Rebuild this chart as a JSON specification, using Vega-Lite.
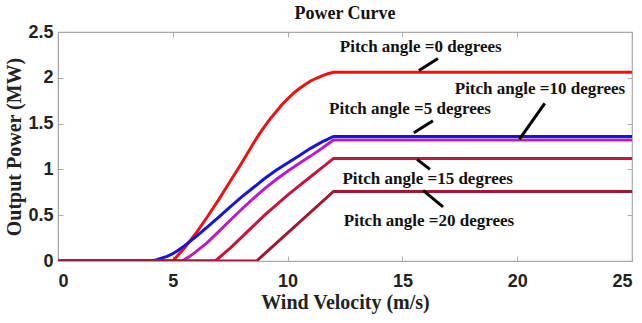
{
  "$schema": "https://vega.github.io/schema/vega-lite/v6.json",
  "width": 574,
  "height": 229,
  "autosize": {"type": "none"},
  "padding": {"left": 58, "top": 32, "right": 10, "bottom": 62},
  "background": "white",
  "title": {"text": "Power Curve", "font": "Liberation Serif", "fontSize": 18, "fontWeight": "bold", "color": "#111", "offset": 0, "anchor": "middle"},
  "config": {
    "view": {"stroke": "#a8a8a8", "strokeWidth": 1.2},
    "axis": {
      "grid": false,
      "domainColor": "#a8a8a8",
      "tickColor": "#a8a8a8",
      "labelFont": "Liberation Sans",
      "labelFontSize": 18,
      "labelFontWeight": "bold",
      "labelColor": "#222",
      "titleFont": "Liberation Serif",
      "titleFontSize": 20,
      "titleFontWeight": "bold",
      "titleColor": "#222"
    }
  },
  "resolve": {"axis": {"x": "independent", "y": "independent"}},
  "datasets": {
    "curves": [
      {"s": "0", "x": 0, "y": 0}, {"s": "0", "x": 5, "y": 0}, {"s": "0", "x": 5.5, "y": 0.14}, {"s": "0", "x": 6, "y": 0.3}, {"s": "0", "x": 6.5, "y": 0.48}, {"s": "0", "x": 7, "y": 0.67}, {"s": "0", "x": 7.5, "y": 0.87}, {"s": "0", "x": 8, "y": 1.07}, {"s": "0", "x": 8.5, "y": 1.28}, {"s": "0", "x": 8.75, "y": 1.38}, {"s": "0", "x": 9, "y": 1.47}, {"s": "0", "x": 9.25, "y": 1.555}, {"s": "0", "x": 9.5, "y": 1.63}, {"s": "0", "x": 9.75, "y": 1.705}, {"s": "0", "x": 10, "y": 1.77}, {"s": "0", "x": 10.25, "y": 1.83}, {"s": "0", "x": 10.5, "y": 1.88}, {"s": "0", "x": 10.75, "y": 1.925}, {"s": "0", "x": 11, "y": 1.965}, {"s": "0", "x": 11.25, "y": 1.995}, {"s": "0", "x": 11.5, "y": 2.02}, {"s": "0", "x": 11.75, "y": 2.045}, {"s": "0", "x": 12, "y": 2.06}, {"s": "0", "x": 25, "y": 2.06},
      {"s": "5", "x": 0, "y": 0}, {"s": "5", "x": 4, "y": 0}, {"s": "5", "x": 4.25, "y": 0.01}, {"s": "5", "x": 4.5, "y": 0.03}, {"s": "5", "x": 4.75, "y": 0.05}, {"s": "5", "x": 5, "y": 0.08}, {"s": "5", "x": 5.25, "y": 0.12}, {"s": "5", "x": 5.5, "y": 0.165}, {"s": "5", "x": 5.75, "y": 0.215}, {"s": "5", "x": 6, "y": 0.265}, {"s": "5", "x": 6.5, "y": 0.37}, {"s": "5", "x": 7, "y": 0.48}, {"s": "5", "x": 7.5, "y": 0.59}, {"s": "5", "x": 8, "y": 0.7}, {"s": "5", "x": 8.5, "y": 0.8}, {"s": "5", "x": 9, "y": 0.9}, {"s": "5", "x": 9.5, "y": 0.99}, {"s": "5", "x": 10, "y": 1.07}, {"s": "5", "x": 10.5, "y": 1.15}, {"s": "5", "x": 11, "y": 1.23}, {"s": "5", "x": 11.5, "y": 1.3}, {"s": "5", "x": 12, "y": 1.36}, {"s": "5", "x": 25, "y": 1.36},
      {"s": "10", "x": 0, "y": 0}, {"s": "10", "x": 5.4, "y": 0}, {"s": "10", "x": 5.7, "y": 0.045}, {"s": "10", "x": 6, "y": 0.1}, {"s": "10", "x": 6.5, "y": 0.2}, {"s": "10", "x": 7, "y": 0.32}, {"s": "10", "x": 7.5, "y": 0.445}, {"s": "10", "x": 8, "y": 0.565}, {"s": "10", "x": 8.5, "y": 0.68}, {"s": "10", "x": 9, "y": 0.79}, {"s": "10", "x": 9.5, "y": 0.89}, {"s": "10", "x": 10, "y": 0.98}, {"s": "10", "x": 10.5, "y": 1.065}, {"s": "10", "x": 11, "y": 1.145}, {"s": "10", "x": 11.5, "y": 1.23}, {"s": "10", "x": 12, "y": 1.32}, {"s": "10", "x": 25, "y": 1.32},
      {"s": "15", "x": 0, "y": 0}, {"s": "15", "x": 6.85, "y": 0}, {"s": "15", "x": 7.5, "y": 0.14}, {"s": "15", "x": 8, "y": 0.26}, {"s": "15", "x": 8.5, "y": 0.38}, {"s": "15", "x": 9, "y": 0.5}, {"s": "15", "x": 9.5, "y": 0.61}, {"s": "15", "x": 10, "y": 0.72}, {"s": "15", "x": 10.5, "y": 0.82}, {"s": "15", "x": 11, "y": 0.92}, {"s": "15", "x": 11.5, "y": 1.02}, {"s": "15", "x": 12, "y": 1.12}, {"s": "15", "x": 25, "y": 1.12},
      {"s": "20", "x": 0, "y": 0}, {"s": "20", "x": 8.65, "y": 0}, {"s": "20", "x": 12, "y": 0.76}, {"s": "20", "x": 25, "y": 0.76}
    ],
    "arrows": [
      {"x": 16.55, "y": 2.21, "x2": 15.72, "y2": 2.08},
      {"x": 21.2, "y": 1.72, "x2": 20.1, "y2": 1.33},
      {"x": 16.33, "y": 1.53, "x2": 15.5, "y2": 1.4},
      {"x": 15.64, "y": 1.11, "x2": 16.2, "y2": 1.0},
      {"x": 15.9, "y": 0.77, "x2": 16.77, "y2": 0.59}
    ],
    "labels": [
      {"x": 15.8, "y": 2.34, "text": "Pitch angle =0 degrees"},
      {"x": 20.99, "y": 1.88, "text": "Pitch angle =10 degrees"},
      {"x": 15.33, "y": 1.66, "text": "Pitch angle =5 degrees"},
      {"x": 16.1, "y": 0.895, "text": "Pitch angle =15 degrees"},
      {"x": 16.16, "y": 0.44, "text": "Pitch angle =20 degrees"}
    ]
  },
  "layer": [
    {
      "data": {"name": "curves"},
      "mark": {"type": "line", "strokeWidth": 3, "clip": true},
      "encoding": {
        "x": {"field": "x", "type": "quantitative", "title": "Wind Velocity (m/s)", "scale": {"domain": [0, 25], "nice": false}, "axis": {"values": [0, 5, 10, 15, 20, 25], "ticks": false, "labelPadding": 11, "titlePadding": 2}},
        "y": {"field": "y", "type": "quantitative", "title": "Output Power (MW)", "scale": {"domain": [0, 2.5], "nice": false}, "axis": {"values": [0, 0.5, 1, 1.5, 2, 2.5], "format": ".1~f", "ticks": false, "labelPadding": 5, "titlePadding": 3}},
        "color": {"field": "s", "type": "nominal", "scale": {"domain": ["0", "5", "10", "15", "20"], "range": ["#ee1111", "#1515dd", "#b81cc8", "#c8143c", "#9e1a32"]}, "legend": null}
      }
    },
    {
      "data": {"name": "arrows"},
      "mark": {"type": "rule", "color": "black", "strokeWidth": 3},
      "encoding": {
        "x": {"field": "x", "type": "quantitative", "axis": {"orient": "top", "values": [0, 5, 10, 15, 20, 25], "labels": false, "title": null, "domain": false, "tickSize": -5}},
        "y": {"field": "y", "type": "quantitative", "axis": {"orient": "right", "values": [0, 0.5, 1, 1.5, 2, 2.5], "labels": false, "title": null, "domain": false, "tickSize": -5}},
        "x2": {"field": "x2"},
        "y2": {"field": "y2"}
      }
    },
    {
      "data": {"name": "labels"},
      "mark": {"type": "text", "font": "Liberation Serif", "fontSize": 17, "fontWeight": "bold", "color": "#111", "align": "center", "baseline": "middle"},
      "encoding": {
        "x": {"field": "x", "type": "quantitative", "axis": {"orient": "bottom", "values": [0, 5, 10, 15, 20, 25], "labels": false, "title": null, "domain": false, "tickSize": -5}},
        "y": {"field": "y", "type": "quantitative", "axis": {"orient": "left", "values": [0, 0.5, 1, 1.5, 2, 2.5], "labels": false, "title": null, "domain": false, "tickSize": -5}},
        "text": {"field": "text"}
      }
    }
  ]
}
